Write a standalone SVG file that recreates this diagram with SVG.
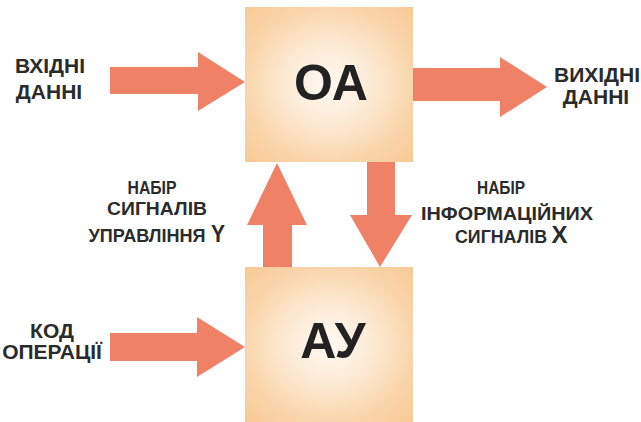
<svg xmlns="http://www.w3.org/2000/svg" width="641" height="422" viewBox="0 0 641 422">
<style>
.lbl{font-family:"Liberation Sans",Arial,sans-serif;font-weight:bold;fill:#2b2b2b;text-anchor:middle}
.big{font-size:21px}
.sm{font-size:18px}
.node{font-family:"Liberation Sans",Arial,sans-serif;font-weight:bold;fill:#222;text-anchor:middle;font-size:50px}
.arr{fill:#ef8266}
</style>
<defs>
<radialGradient id="boxg" cx="0.5" cy="0.5" r="0.7">
<stop offset="0" stop-color="#fff9f2"/>
<stop offset="0.35" stop-color="#fdebd6"/>
<stop offset="0.72" stop-color="#fad5ab"/>
<stop offset="1" stop-color="#f8c995"/>
</radialGradient>
</defs>
<rect width="641" height="422" fill="#ffffff"/>
<g id="connectors">
<polygon class="arr" points="110,67 198,67 198,52 245,82 198,111 198,94 110,94"/>
<polygon class="arr" points="413,68 500,68 500,57 547,87 500,117 500,101 413,101"/>
<polygon class="arr" points="110,333 197,333 197,317 245,347 197,377 197,361 110,361"/>
<polygon class="arr" points="263,267 263,225 247,225 277,163 307,225 292,225 292,267"/>
<polygon class="arr" points="367,162 395,162 395,215 412,215 380,267 350,215 367,215"/>
</g>
<g id="node-oa">
<rect x="245" y="7" width="168" height="155" fill="url(#boxg)"/>
<text class="node" x="331" y="100">ОА</text>
</g>
<g id="node-au">
<rect x="245" y="267" width="168" height="155" fill="url(#boxg)"/>
<text class="node" x="333" y="358">АУ</text>
</g>
<g id="label-in">
<text class="lbl big" x="50" y="73">ВХІДНІ</text>
<text class="lbl big" x="49" y="99">ДАННІ</text>
</g>
<g id="label-out">
<text class="lbl big" x="597" y="82">ВИХІДНІ</text>
<text class="lbl big" x="596" y="104">ДАННІ</text>
</g>
<g id="label-code">
<text class="lbl big" x="52" y="338">КОД</text>
<text class="lbl big" x="52" y="359">ОПЕРАЦІЇ</text>
</g>
<g id="label-y">
<text class="lbl sm" x="152" y="194" textLength="49" lengthAdjust="spacingAndGlyphs">НАБІР</text>
<text class="lbl sm" x="157" y="215" textLength="100" lengthAdjust="spacingAndGlyphs">СИГНАЛІВ</text>
<text class="lbl sm" x="147" y="242" textLength="117" lengthAdjust="spacingAndGlyphs">УПРАВЛІННЯ</text>
<text class="lbl" style="font-size:24px" x="218" y="242" textLength="14" lengthAdjust="spacingAndGlyphs">Y</text>
</g>
<g id="label-x">
<text class="lbl sm" x="501" y="194" textLength="48" lengthAdjust="spacingAndGlyphs">НАБІР</text>
<text class="lbl sm" x="507" y="220" textLength="172" lengthAdjust="spacingAndGlyphs">ІНФОРМАЦІЙНИХ</text>
<text class="lbl sm" x="501" y="243" textLength="92" lengthAdjust="spacingAndGlyphs">СИГНАЛІВ</text>
<text class="lbl" style="font-size:23px" x="559.5" y="243" textLength="16" lengthAdjust="spacingAndGlyphs">X</text>
</g>
</svg>
